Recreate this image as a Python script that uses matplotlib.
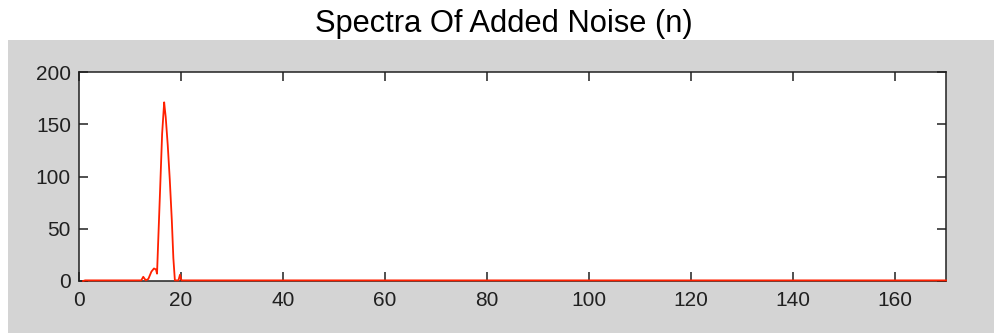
import matplotlib
matplotlib.use('Agg')
from matplotlib import pyplot as plt
from matplotlib.patches import Rectangle

# spectrum of the added noise
freq = [0.8, 1.2, 12.2, 12.6, 13.1, 13.6, 14.2, 14.7, 15.1, 15.3, 15.5, 15.9,
        16.3, 16.7, 16.8, 17.0, 17.4, 17.8, 18.2, 18.5, 18.8, 19.5, 19.8,
        20.1, 170.0]
amp = [0, 0.6, 0.6, 4, 0.6, 2, 9, 12, 11, 7, 34, 87,
       141, 171, 166, 157, 130, 97, 58, 22, 0.6, 0.6, 6,
       0.6, 0.6]

xticks = [0, 20, 40, 60, 80, 100, 120, 140, 160]
yticks = [0, 50, 100, 150, 200]
title = 'Spectra Of Added Noise (n)'


def main():
    plt.rcParams['font.family'] = ['Liberation Sans', 'DejaVu Sans']

    fig = plt.figure(figsize=(9.94, 3.33), dpi=100)
    fig.patch.set_facecolor('white')

    # grey figure panel below the title
    fig.patches.append(Rectangle((8 / 994, 0), 1 - 8 / 994, 1 - 40 / 333,
                                 transform=fig.transFigure,
                                 facecolor='#d4d4d4', edgecolor='none',
                                 zorder=-5))

    ax = fig.add_axes([79 / 994, 1 - 281 / 333, 867 / 994, 209 / 333])
    ax.set_zorder(2)
    ax.set_facecolor('white')

    ax.plot(freq, amp, color='#ff2000', lw=1.3, clip_on=False, zorder=3)

    ax.set_xlim(0, 170)
    ax.set_ylim(0, 200)
    ax.set_xticks(xticks)
    ax.set_yticks(yticks)

    for s in ax.spines.values():
        s.set_color('#202020')
        s.set_linewidth(1.1)
    ax.tick_params(direction='in', length=6.5, width=1.1, color='#202020',
                   top=True, right=True, labelsize=15, labelcolor='#202020')
    ax.tick_params(axis='y', pad=5.8)
    ax.tick_params(axis='x', pad=7.5)

    fig.text(504 / 994, 1 - 32 / 333, title, ha='center', va='baseline',
             fontsize=22.2, color='black')

    fig.savefig('out.png', dpi=100)


if __name__ == '__main__':
    main()
